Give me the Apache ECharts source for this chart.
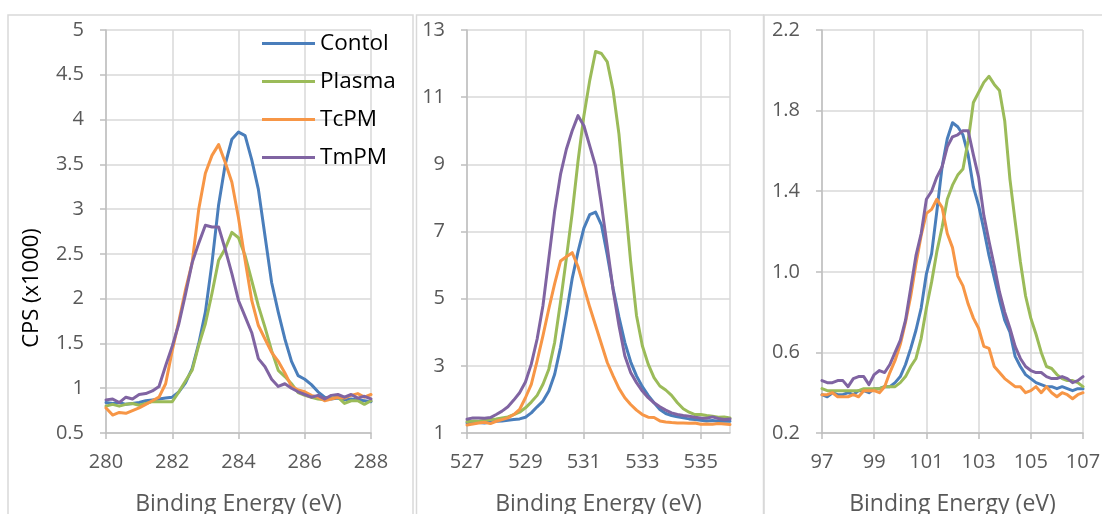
<!DOCTYPE html>
<html>
<head>
<meta charset="utf-8">
<script src="https://cdn.jsdelivr.net/npm/echarts@6/dist/echarts.min.js"></script>
<style>
html,body{margin:0;padding:0;background:#fff;}
#chart{width:1102px;height:514px;}
</style>
</head>
<body>
<div id="chart"></div>
<script>
// ---------- DATA ----------
const seriesNames = ["Contol", "Plasma", "TcPM", "TmPM"];

// Panel 1 (C 1s)
const energy1 = [280.0,280.2,280.4,280.6,280.8,281.0,281.2,281.4,281.6,281.8,282.0,282.2,282.4,282.6,282.8,283.0,283.2,283.4,283.6,283.8,284.0,284.2,284.4,284.6,284.8,285.0,285.2,285.4,285.6,285.8,286.0,286.2,286.4,286.6,286.8,287.0,287.2,287.4,287.6,287.8,288.0];
const contol1 = [0.84,0.83,0.84,0.82,0.83,0.84,0.86,0.87,0.88,0.89,0.90,0.96,1.06,1.22,1.50,1.85,2.40,3.05,3.50,3.78,3.86,3.82,3.55,3.22,2.70,2.18,1.85,1.55,1.30,1.14,1.10,1.04,0.96,0.90,0.88,0.89,0.87,0.88,0.87,0.86,0.85];
const plasma1 = [0.80,0.82,0.80,0.82,0.83,0.81,0.83,0.85,0.85,0.85,0.85,0.96,1.08,1.20,1.48,1.72,2.06,2.43,2.56,2.74,2.68,2.48,2.20,1.92,1.68,1.42,1.20,1.13,1.05,0.95,0.92,0.90,0.88,0.87,0.89,0.90,0.83,0.86,0.86,0.82,0.86];
const tcpm1   = [0.78,0.70,0.73,0.72,0.75,0.78,0.82,0.86,0.90,1.05,1.42,1.75,2.10,2.40,3.00,3.40,3.60,3.72,3.52,3.30,2.90,2.43,1.98,1.70,1.55,1.40,1.30,1.17,1.02,0.98,0.96,0.92,0.90,0.86,0.88,0.90,0.89,0.92,0.94,0.90,0.93];
const tmpm1   = [0.87,0.88,0.84,0.90,0.88,0.93,0.94,0.97,1.02,1.25,1.47,1.72,2.05,2.40,2.62,2.82,2.80,2.80,2.55,2.28,1.98,1.80,1.62,1.33,1.24,1.10,1.02,1.05,1.00,0.96,0.93,0.90,0.92,0.88,0.92,0.93,0.90,0.93,0.89,0.91,0.88];

// Panel 2 (O 1s)
const energy2 = [527.0,527.2,527.4,527.6,527.8,528.0,528.2,528.4,528.6,528.8,529.0,529.2,529.4,529.6,529.8,530.0,530.2,530.4,530.6,530.8,531.0,531.2,531.4,531.6,531.8,532.0,532.2,532.4,532.6,532.8,533.0,533.2,533.4,533.6,533.8,534.0,534.2,534.4,534.6,534.8,535.0,535.2,535.4,535.6,535.8,536.0];
const contol2 = [1.30,1.32,1.31,1.30,1.33,1.35,1.36,1.38,1.40,1.42,1.47,1.60,1.78,1.95,2.25,2.75,3.55,4.55,5.60,6.40,7.10,7.50,7.58,7.20,6.30,5.30,4.45,3.70,3.12,2.70,2.38,2.12,1.90,1.70,1.58,1.52,1.48,1.45,1.42,1.40,1.38,1.36,1.37,1.35,1.36,1.35];
const plasma2 = [1.34,1.36,1.35,1.38,1.40,1.42,1.45,1.48,1.55,1.62,1.75,1.92,2.12,2.45,2.90,3.70,4.90,6.20,7.55,9.10,10.45,11.50,12.36,12.30,12.05,11.20,9.90,8.00,6.10,4.50,3.60,3.05,2.65,2.40,2.28,2.12,1.90,1.72,1.62,1.55,1.55,1.52,1.50,1.47,1.48,1.45];
const tcpm2   = [1.24,1.27,1.30,1.32,1.28,1.35,1.40,1.45,1.55,1.70,2.05,2.45,3.15,3.90,4.70,5.45,6.12,6.25,6.37,5.95,5.35,4.75,4.20,3.65,3.10,2.70,2.33,2.05,1.85,1.68,1.55,1.47,1.46,1.36,1.33,1.31,1.30,1.30,1.29,1.30,1.26,1.27,1.26,1.28,1.27,1.25];
const tmpm2   = [1.41,1.45,1.45,1.44,1.46,1.55,1.65,1.78,1.98,2.20,2.52,3.05,3.80,4.80,6.20,7.60,8.70,9.45,10.00,10.45,10.15,9.55,8.95,7.80,6.55,5.26,4.20,3.30,2.80,2.50,2.25,2.05,1.90,1.78,1.68,1.60,1.55,1.52,1.50,1.47,1.45,1.44,1.48,1.43,1.40,1.42];

// Panel 3 (Si 2p)
const energy3 = [97.0,97.2,97.4,97.6,97.8,98.0,98.2,98.4,98.6,98.8,99.0,99.2,99.4,99.6,99.8,100.0,100.2,100.4,100.6,100.8,101.0,101.2,101.4,101.6,101.8,102.0,102.2,102.4,102.6,102.8,103.0,103.2,103.4,103.6,103.8,104.0,104.2,104.4,104.6,104.8,105.0,105.2,105.4,105.6,105.8,106.0,106.2,106.4,106.6,106.8,107.0];
const contol3 = [0.39,0.38,0.40,0.39,0.39,0.40,0.39,0.41,0.41,0.40,0.42,0.42,0.43,0.43,0.45,0.48,0.54,0.62,0.71,0.82,0.99,1.09,1.30,1.52,1.66,1.74,1.72,1.68,1.58,1.42,1.33,1.21,1.08,0.97,0.86,0.76,0.70,0.58,0.53,0.49,0.47,0.45,0.44,0.43,0.43,0.42,0.43,0.42,0.41,0.42,0.42];
const plasma3 = [0.42,0.41,0.41,0.41,0.41,0.41,0.41,0.41,0.42,0.42,0.42,0.42,0.43,0.43,0.43,0.45,0.48,0.53,0.57,0.67,0.82,0.95,1.10,1.22,1.36,1.43,1.48,1.51,1.65,1.84,1.89,1.94,1.97,1.93,1.90,1.75,1.46,1.25,1.05,0.88,0.77,0.69,0.60,0.53,0.52,0.49,0.47,0.46,0.46,0.45,0.43];
const tcpm3   = [0.39,0.39,0.40,0.38,0.38,0.38,0.39,0.38,0.41,0.41,0.41,0.40,0.43,0.50,0.56,0.64,0.75,0.88,1.04,1.18,1.29,1.31,1.36,1.32,1.19,1.12,0.98,0.93,0.84,0.77,0.72,0.63,0.62,0.53,0.50,0.47,0.45,0.43,0.43,0.40,0.41,0.43,0.40,0.43,0.40,0.38,0.40,0.39,0.37,0.39,0.40];
const tmpm3   = [0.46,0.45,0.45,0.46,0.46,0.43,0.47,0.48,0.48,0.44,0.49,0.51,0.50,0.54,0.60,0.66,0.76,0.92,1.08,1.19,1.36,1.40,1.47,1.52,1.62,1.67,1.68,1.70,1.70,1.58,1.47,1.28,1.15,1.03,0.90,0.80,0.72,0.63,0.57,0.53,0.51,0.50,0.50,0.48,0.47,0.47,0.48,0.47,0.45,0.46,0.48];

const xTitle = "Binding Energy (eV)";
const yTitle = "CPS (x1000)";

// ---------- CHART ----------
const colors = ["#4a7ebb", "#9bbb59", "#f79646", "#8064a2"];
const FONT = "'Open Sans', 'Noto Sans', sans-serif";
const gridColor = "#d9d9d9";
const axisColor = "#bfbfbf";
const labelColor = "#595959";

const panels = [
  {E: energy1, S: [contol1, plasma1, tcpm1, tmpm1], xmin: 280, xmax: 288, xint: 2, ymin: 0.5, ymax: 5, yint: 0.5, left: 106, width: 265, fmt: null},
  {E: energy2, S: [contol2, plasma2, tcpm2, tmpm2], xmin: 527, xmax: 536, xint: 2, ymin: 1, ymax: 13, yint: 2, left: 467, width: 263, fmt: null},
  {E: energy3, S: [contol3, plasma3, tcpm3, tmpm3], xmin: 97, xmax: 107, xint: 2, ymin: 0.2, ymax: 2.2, yint: 0.4, left: 822, width: 261, fmt: v => v.toFixed(1)}
];

const grids = [], xAxes = [], yAxes = [], series = [];
panels.forEach((p, i) => {
  grids.push({left: p.left, width: p.width, top: 30, height: 403, containLabel: false, outerBoundsMode: 'none'});
  xAxes.push({
    type: 'value', gridIndex: i, min: p.xmin, max: p.xmax, interval: p.xint,
    name: xTitle, nameLocation: 'middle', nameGap: 60,
    nameTextStyle: {fontFamily: FONT, fontSize: 23, color: labelColor},
    axisLine: {show: true, onZero: false, lineStyle: {color: axisColor, width: 1.5}},
    axisTick: {show: true, length: 6, lineStyle: {color: axisColor, width: 1.5}},
    axisLabel: {fontFamily: FONT, fontSize: 20, color: labelColor, margin: 19, showMaxLabel: i !== 1},
    splitLine: {show: true, lineStyle: {color: gridColor, width: 1.5}}
  });
  const ya = {
    type: 'value', gridIndex: i, min: p.ymin, max: p.ymax, interval: p.yint,
    axisLine: {show: true, lineStyle: {color: axisColor, width: 1.5}},
    axisTick: {show: true, length: 6, lineStyle: {color: axisColor, width: 1.5}},
    axisLabel: {fontFamily: FONT, fontSize: 20, color: labelColor, margin: 22},
    splitLine: {show: true, lineStyle: {color: gridColor, width: 1.5}}
  };
  if (p.fmt) ya.axisLabel.formatter = p.fmt;
  yAxes.push(ya);
  p.S.forEach((vals, k) => {
    series.push({
      type: 'line', name: seriesNames[k], xAxisIndex: i, yAxisIndex: i,
      data: p.E.map((e, j) => [e, vals[j]]),
      showSymbol: false, symbol: 'none', smooth: false,
      lineStyle: {color: colors[k], width: 3, join: 'round', cap: 'round'},
      itemStyle: {color: colors[k]},
      emphasis: {disabled: true}, animation: false
    });
  });
});

const chart = echarts.init(document.getElementById('chart'), null, {renderer: 'canvas'});
chart.setOption({
  backgroundColor: '#ffffff',
  animation: false,
  color: colors,
  grid: grids,
  xAxis: xAxes,
  yAxis: yAxes,
  series: series,
  legend: {
    orient: 'vertical', left: 262, top: 32, padding: 0,
    data: seriesNames, icon: 'rect', itemWidth: 53, itemHeight: 3, itemGap: 15,
    textStyle: {fontFamily: FONT, fontSize: 22.5, color: '#000', lineHeight: 22, padding: [0, 0, 0, 0]},
    selectedMode: false
  },
  graphic: [
    {type: 'rect', shape: {x: 8, y: 15, width: 405, height: 530}, style: {fill: 'none', stroke: gridColor, lineWidth: 1.5}, silent: true, z: -1},
    {type: 'rect', shape: {x: 416.5, y: 15, width: 347, height: 530}, style: {fill: 'none', stroke: gridColor, lineWidth: 1.5}, silent: true, z: -1},
    {type: 'rect', shape: {x: 764, y: 15, width: 360, height: 530}, style: {fill: 'none', stroke: gridColor, lineWidth: 1.5}, silent: true, z: -1},
    {type: 'text', x: 32, y: 288, rotation: Math.PI / 2,
     style: {text: yTitle, fontFamily: FONT, fontSize: 22, fill: '#000', textAlign: 'center', textVerticalAlign: 'middle'}, silent: true}
  ]
});
</script>
</body>
</html>
